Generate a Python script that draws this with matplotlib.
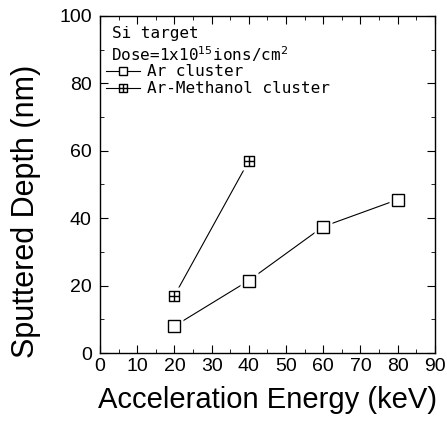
import numpy as np
from matplotlib import pyplot as plt
from matplotlib.path import Path
from matplotlib.lines import Line2D
from matplotlib.ticker import MultipleLocator

energy_ar = [20, 40, 60, 80]
depth_ar = [8.0, 21.5, 37.5, 45.5]
energy_meoh = [20, 40]
depth_meoh = [17.0, 57.0]

sans = 'Liberation Sans'
mono = 'DejaVu Sans Mono'

# square with a cross inside
crossed_square = Path(
    [(-1, -1), (1, -1), (1, 1), (-1, 1), (-1, -1),
     (0, -1), (0, 1), (-1, 0), (1, 0)],
    [Path.MOVETO, Path.LINETO, Path.LINETO, Path.LINETO, Path.CLOSEPOLY,
     Path.MOVETO, Path.LINETO, Path.MOVETO, Path.LINETO])

fig = plt.figure(figsize=(4.47, 4.30), dpi=100)
ax = fig.add_axes([0.2237, 0.179, 0.749, 0.784])


def draw_series(x, y, marker, ms):
    ax.plot(x, y, color='black', lw=0.8, zorder=2)
    # white halo so the line stops short of each marker
    ax.plot(x, y, ls='none', marker='s', ms=ms + 5, mfc='white', mec='none', zorder=3)
    ax.plot(x, y, ls='none', marker=marker, ms=ms, mfc='white', mec='black',
            mew=1.0, zorder=4)


draw_series(energy_ar, depth_ar, 's', 8)
draw_series(energy_meoh, depth_meoh, crossed_square, 7.5)

ax.set_xlim(0, 90)
ax.set_ylim(0, 100)
ax.xaxis.set_major_locator(MultipleLocator(10))
ax.xaxis.set_minor_locator(MultipleLocator(5))
ax.yaxis.set_major_locator(MultipleLocator(20))
ax.yaxis.set_minor_locator(MultipleLocator(10))
ax.tick_params(which='both', direction='in', top=True, right=True, labelsize=14)
ax.tick_params(which='major', length=6)
ax.tick_params(which='minor', length=3)
ax.tick_params(axis='y', pad=6)
for lab in ax.get_xticklabels() + ax.get_yticklabels():
    lab.set_family(sans)
for s in ax.spines.values():
    s.set_linewidth(1.0)

ax.set_xlabel('Acceleration Energy (keV)', fontsize=21, family=sans, labelpad=8)
ax.set_ylabel('Sputtered Depth (nm)', fontsize=22, family=sans)
ax.yaxis.set_label_coords(-0.176, 0.42)

ax.text(0.036, 0.948, 'Si target', transform=ax.transAxes, family=mono,
        fontsize=11.5, va='center')
ax.text(0.033, 0.887, r'Dose=1x10$^{15}$ions/cm$^{2}$', transform=ax.transAxes,
        family=mono, fontsize=11.5, va='center')

h1 = Line2D([], [], color='black', lw=0.8, marker='s', ms=6, mfc='white', mec='black')
h2 = Line2D([], [], color='black', lw=0.8, marker=crossed_square, ms=5.5,
            mfc='white', mec='black')
ax.legend([h1, h2], ['Ar cluster', 'Ar-Methanol cluster'], loc='upper left',
          bbox_to_anchor=(0.018, 0.857), frameon=False, handlelength=2.1,
          handletextpad=0.45, labelspacing=0.14, borderaxespad=0.0, borderpad=0.0,
          prop={'family': mono, 'size': 11.5})

fig.savefig('out.png', dpi=100)
